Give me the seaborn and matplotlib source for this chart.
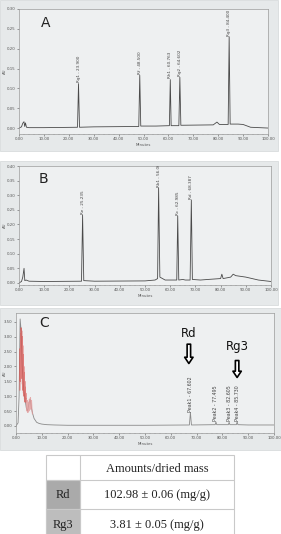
import numpy as np
import pandas as pd
import matplotlib
matplotlib.use("Agg")
import matplotlib.pyplot as plt
import seaborn as sns
from matplotlib.ticker import MultipleLocator, FormatStrFormatter
from matplotlib.patches import Rectangle

# ---------------- data ----------------
# Panel A (standards 1)
a_time = [0, 1.0, 1.5, 2.0, 2.3, 2.6, 3.0, 4, 10, 23.5, 23.9, 24.3, 30, 48.1, 48.5, 48.9, 55,
          60.4, 60.76, 61.1, 64.2, 64.6, 65.0, 78, 79.5, 80.5, 84.0, 84.4, 84.8, 88, 90, 93, 100]
a_au = [0.0, 0.003, 0.012, 0.016, 0.004, 0.013, 0.002, 0.001, 0.001, 0.002, 0.112, 0.002, 0.003,
        0.004, 0.133, 0.005, 0.005, 0.006, 0.122, 0.006, 0.006, 0.128, 0.007, 0.008, 0.015, 0.009,
        0.009, 0.230, 0.010, 0.010, 0.009, 0.002, 0.0]
a_peak_rt = [23.9, 48.5, 60.763, 64.602, 84.4]
a_peak_h = [0.112, 0.133, 0.122, 0.128, 0.230]
a_peak_lbl = ["Rg1 - 23.900", "Rf - 48.500", "Rh1 - 60.763", "Rg2 - 64.602", "Rg3 - 84.400"]

# Panel B (standards 2)
b_time = [0, 1, 1.5, 2.0, 2.3, 2.8, 4, 10, 24.8, 25.235, 25.7, 30, 50, 54, 55.0, 55.4, 55.9, 58,
          62.6, 62.985, 63.4, 65, 66, 67.9, 68.387, 68.8, 72, 75, 80, 80.5, 81, 84, 85, 86, 90, 95, 100]
b_au = [0.0, 0.005, 0.02, 0.05, 0.008, 0.01, 0.006, 0.005, 0.006, 0.232, 0.008, 0.006, 0.007,
        0.010, 0.015, 0.325, 0.02, 0.010, 0.010, 0.229, 0.010, 0.012, 0.010, 0.010, 0.284, 0.012,
        0.010, 0.012, 0.015, 0.03, 0.015, 0.02, 0.03, 0.025, 0.02, 0.01, 0.005]
b_peak_rt = [25.235, 55.4, 62.985, 68.387]
b_peak_h = [0.232, 0.325, 0.229, 0.284]
b_peak_lbl = ["Re - 25.235", "Rb1 - 56.068", "Rc - 62.985", "Rd - 68.387"]

# Panel C (sample)
c_time = [0, 0.8, 1.2, 1.6, 2.0, 2.4, 3, 3.5, 4, 4.5, 5, 5.5, 6, 6.5, 7, 8, 9, 10, 12, 15, 20, 30,
          50, 67.2, 67.602, 68.0, 77.2, 77.495, 77.8, 82.3, 82.605, 82.9, 85.4, 85.73, 86.0, 90, 95, 100]
c_au = [0.0, 0.1, 1.0, 3.6, 3.2, 2.0, 1.2, 0.9, 0.6, 0.5, 0.75, 0.9, 0.6, 0.4, 0.25, 0.12, 0.08,
        0.06, 0.04, 0.03, 0.02, 0.02, 0.02, 0.03, 0.45, 0.03, 0.04, 0.13, 0.04, 0.04, 0.12, 0.04,
        0.04, 0.14, 0.04, 0.03, 0.03, 0.03]
c_red_time = [1.5, 1.6, 1.7, 1.8, 1.9, 2.0, 2.1, 2.2, 2.3, 2.4, 2.5, 2.6, 2.7, 2.8, 2.9, 3.0, 3.1,
              3.2, 3.3, 3.4, 3.5, 3.6, 3.7, 3.8, 3.9, 4.0]
c_red_au = [1.2, 2.6, 1.5, 3.1, 1.8, 3.3, 2.0, 3.2, 1.6, 3.0, 1.4, 2.7, 1.2, 2.4, 1.1, 2.0, 1.0,
            1.8, 0.9, 1.5, 0.8, 1.3, 0.9, 1.1, 0.8, 0.9]
c_pink_time = [4.0, 4.2, 4.4, 4.6, 4.8, 5.0, 5.2, 5.4, 5.6, 5.8, 6.0, 6.2, 6.4]
c_pink_au = [0.9, 0.5, 0.85, 0.45, 0.8, 0.5, 0.9, 0.55, 0.95, 0.6, 0.85, 0.5, 0.4]
c_peak_rt = [67.602, 77.495, 82.605, 85.73]
c_peak_h = [0.45, 0.13, 0.12, 0.14]
c_peak_lbl = ["Peak1 - 67.602", "Peak2 - 77.495", "Peak3 - 82.605", "Peak4 - 85.730"]
c_marks = ["Rd", "Rg3"]

# Table
tbl_header = "Amounts/dried mass"
tbl_rows = ["Rd", "Rg3"]
tbl_vals = ["102.98 \u00b1 0.06 (mg/g)", "3.81 \u00b1 0.05 (mg/g)"]

# ---------------- figure ----------------
sns.set_theme(style="white")
plt.rcParams['font.family'] = ['DejaVu Sans']
W, H = 281, 534
fig = plt.figure(figsize=(W / 100, H / 100), dpi=100)
fig.patch.set_facecolor("white")


def fbox(l, t, r, b):
    return [l / W, (H - b) / H, (r - l) / W, (b - t) / H]


# background / table axes in pixel coordinates
bg = fig.add_axes([0, 0, 1, 1], zorder=-5)
bg.set_xlim(0, W)
bg.set_ylim(H, 0)
bg.axis("off")
panel_bg = "#e6e9ea"
for (l, t, r, b) in [(0, 0, 278, 151), (0, 161, 278, 305), (0, 308, 281, 450)]:
    bg.add_patch(Rectangle((l, t), r - l, b - t, facecolor=panel_bg, edgecolor="#d8dcdd", lw=0.6))

# table
tx0, tx1, tx2 = 46, 80, 234
ty = [455, 480, 509, 540]
line_c = "#c9c9c9"
bg.add_patch(Rectangle((tx0, ty[0]), tx2 - tx0, ty[3] - ty[0], facecolor="white", edgecolor=line_c, lw=0.8))
cell_cols = ["#aaaaaa", "#bdbdbd"]
for i in range(2):
    bg.add_patch(Rectangle((tx0, ty[i + 1]), tx1 - tx0, ty[i + 2] - ty[i + 1],
                           facecolor=cell_cols[i], edgecolor=line_c, lw=0.8))
for y in ty[1:3]:
    bg.plot([tx0, tx2], [y, y], color=line_c, lw=0.8)
bg.plot([tx1, tx1], [ty[0], ty[3]], color=line_c, lw=0.8)
serif = ['Liberation Serif', 'DejaVu Serif']
tfs = 8.9
bg.text((tx1 + tx2) / 2, (ty[0] + ty[1]) / 2 + 1, tbl_header, ha="center", va="center",
        fontsize=tfs, family=serif, color="#222222")
for i, yc in enumerate([495, 525]):
    bg.text((tx0 + tx1) / 2, yc, tbl_rows[i], ha="center", va="center", fontsize=tfs,
            family=serif, color="#222222")
    bg.text((tx1 + tx2) / 2, yc, tbl_vals[i], ha="center", va="center", fontsize=tfs,
            family=serif, color="#222222")


def style_axis(ax, ymax, ystep, ymin, left_px):
    ax.set_facecolor("#eef0f1")
    ax.set_xlim(0, 100)
    ax.set_ylim(ymin, ymax)
    ax.xaxis.set_major_locator(MultipleLocator(10))
    ax.xaxis.set_minor_locator(MultipleLocator(2))
    ax.yaxis.set_major_locator(MultipleLocator(ystep))
    ax.xaxis.set_major_formatter(FormatStrFormatter("%.2f"))
    ax.yaxis.set_major_formatter(FormatStrFormatter("%.2f"))
    ax.tick_params(axis="both", which="major", labelsize=2.8, length=1.5, width=0.4,
                   pad=1, colors="#555555", direction="out")
    ax.tick_params(axis="x", which="minor", length=0.8, width=0.3, colors="#777777")
    ax.tick_params(bottom=True, left=True, which="both")
    ax.tick_params(axis="y", which="minor", left=False)
    for s in ax.spines.values():
        s.set_color("#9a9a9a")
        s.set_linewidth(0.5)
    ax.set_xlabel("Minutes", fontsize=2.8, labelpad=0.8, color="#555555")
    ax.set_ylabel("AU", fontsize=2.8, color="#555555")
    w_px = ax.get_position().width * W
    ax.yaxis.set_label_coords((7 - left_px) / w_px, 0.5)


def peak_labels(ax, rts, hs, lbls, off, fs=3.0):
    for rt, h, lb in zip(rts, hs, lbls):
        ax.text(rt, h + off, lb, rotation=90, ha="center", va="bottom", fontsize=fs,
                color="#444444", clip_on=True)


# Panel A
axA = fig.add_axes(fbox(19, 9, 268, 134))
sns.lineplot(x=a_time, y=a_au, ax=axA, color="#4a4a4a", linewidth=0.6)
style_axis(axA, 0.30, 0.05, -0.015, 19)
peak_labels(axA, a_peak_rt, a_peak_h, a_peak_lbl, 0.003)
axA.text(10.5, 0.265, "A", fontsize=10, ha="center", va="center", color="#222222")

# Panel B
axB = fig.add_axes(fbox(19, 166, 271, 285))
sns.lineplot(x=b_time, y=b_au, ax=axB, color="#4a4a4a", linewidth=0.6)
style_axis(axB, 0.40, 0.05, -0.007, 19)
peak_labels(axB, b_peak_rt, b_peak_h, b_peak_lbl, 0.004)
axB.text(9.5, 0.355, "B", fontsize=10, ha="center", va="center", color="#222222")

# Panel C
axC = fig.add_axes(fbox(16, 313, 274, 433))
sns.lineplot(x=c_time, y=c_au, ax=axC, color="#8a8a8a", linewidth=0.6)
sns.lineplot(x=c_red_time, y=c_red_au, ax=axC, color="#d9534f", linewidth=0.8, alpha=0.75)
sns.lineplot(x=c_pink_time, y=c_pink_au, ax=axC, color="#e39a9a", linewidth=0.8, alpha=0.8)
style_axis(axC, 3.8, 0.5, -0.24, 16)
peak_labels(axC, c_peak_rt, c_peak_h, c_peak_lbl, 0.03, fs=3.4)
axC.text(11, 3.45, "C", fontsize=10, ha="center", va="center", color="#222222")
axC.text(67.0, 3.12, c_marks[0], fontsize=8.5, ha="center", va="center", color="#111111")
axC.text(85.7, 2.68, c_marks[1], fontsize=8.5, ha="center", va="center", color="#111111")
arrow_style = "simple,head_width=0.6,head_length=0.45,tail_width=0.25"
for x, y0, y1 in [(67.0, 2.75, 2.1), (85.7, 2.2, 1.63)]:
    axC.annotate("", xy=(x, y1), xytext=(x, y0),
                 arrowprops=dict(arrowstyle=arrow_style, mutation_scale=10,
                                 fc="white", ec="black", lw=1.2, shrinkA=0, shrinkB=0))

for ax in (axA, axB, axC):
    if ax.get_legend():
        ax.get_legend().remove()

fig.savefig("out.png", dpi=100)
